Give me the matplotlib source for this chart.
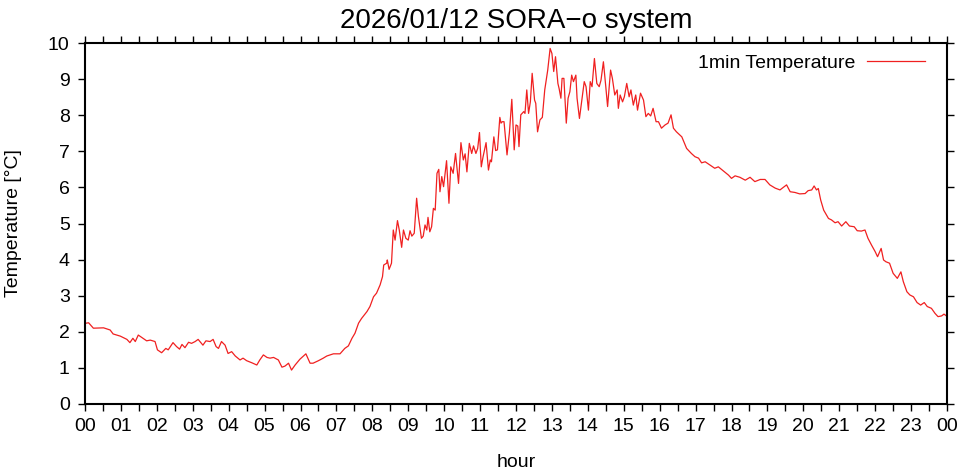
import matplotlib
matplotlib.use("Agg")
import matplotlib.pyplot as plt
import numpy as np

# minutes after 00:00 and 1min temperature [°C]
minutes = [
    0, 2, 6, 14, 31, 42, 47, 59, 70, 75, 80, 84, 89, 97, 103, 109, 117, 121, 128, 135,
    139, 147, 153, 158, 162, 167, 173, 178, 184, 189, 197, 202, 209, 214, 219, 223, 228, 234, 239, 245,
    251, 259, 264, 270, 279, 287, 292, 298, 304, 309, 315, 323, 329, 334, 340, 345, 351, 359, 369, 376,
    381, 390, 398, 404, 415, 426, 434, 440, 446, 451, 457, 462, 471, 476, 482, 487, 493, 497, 499, 504,
    505, 508, 512, 515, 518, 522, 525, 529, 532, 536, 540, 543, 546, 550, 554, 557, 562, 565, 568, 571,
    573, 576, 579, 582, 585, 588, 591, 593, 596, 599, 604, 608, 611, 615, 619, 624, 628, 632, 635, 638,
    642, 646, 649, 653, 656, 659, 662, 665, 670, 674, 677, 679, 683, 686, 689, 693, 695, 697, 700, 705,
    709, 713, 717, 720, 723, 725, 728, 733, 735, 738, 741, 744, 747, 751, 753, 756, 760, 764, 768, 773,
    777, 780, 783, 786, 790, 792, 795, 797, 800, 804, 807, 810, 813, 816, 820, 822, 826, 830, 834, 837,
    841, 844, 847, 851, 855, 859, 862, 866, 870, 873, 878, 881, 885, 889, 891, 894, 898, 901, 905, 909,
    912, 916, 920, 923, 928, 933, 937, 941, 945, 949, 954, 958, 963, 969, 974, 979, 983, 988, 997, 1005,
    1013, 1019, 1025, 1030, 1036, 1044, 1052, 1058, 1066, 1075, 1080, 1086, 1094, 1103, 1111, 1119, 1128, 1136, 1144, 1153,
    1161, 1172, 1178, 1186, 1194, 1203, 1208, 1214, 1218, 1222, 1225, 1229, 1234, 1242, 1247, 1253, 1258, 1264, 1271, 1277,
    1285, 1290, 1297, 1303, 1308, 1314, 1320, 1324, 1330, 1334, 1338, 1344, 1350, 1357, 1363, 1367, 1373, 1378, 1384, 1390,
    1396, 1402, 1407, 1414, 1420, 1425, 1431, 1435, 1439,
]
temps = [
    2.22, 2.24, 2.25, 2.10, 2.11, 2.05, 1.94, 1.88, 1.79, 1.70, 1.82, 1.73, 1.91, 1.82, 1.75, 1.77, 1.73, 1.50, 1.42, 1.54,
    1.50, 1.70, 1.59, 1.52, 1.65, 1.56, 1.71, 1.68, 1.73, 1.79, 1.63, 1.75, 1.73, 1.79, 1.59, 1.54, 1.73, 1.63, 1.40, 1.45,
    1.33, 1.22, 1.27, 1.20, 1.14, 1.08, 1.22, 1.36, 1.29, 1.27, 1.29, 1.22, 1.02, 1.05, 1.13, 0.94, 1.08, 1.24, 1.39, 1.13,
    1.13, 1.20, 1.27, 1.33, 1.39, 1.39, 1.54, 1.61, 1.82, 1.96, 2.24, 2.37, 2.56, 2.70, 2.97, 3.07, 3.30, 3.53, 3.85, 3.90,
    3.99, 3.73, 3.90, 4.82, 4.54, 5.08, 4.82, 4.34, 4.82, 4.59, 4.54, 4.80, 4.65, 4.73, 5.70, 5.19, 4.59, 4.65, 4.96, 4.82,
    5.17, 4.77, 4.91, 5.42, 5.37, 6.39, 6.50, 5.88, 6.30, 6.02, 6.74, 5.56, 6.57, 6.39, 6.94, 6.11, 7.24, 6.76, 6.93, 6.43,
    7.22, 6.94, 7.15, 6.94, 7.08, 7.52, 6.57, 6.85, 7.24, 6.48, 6.76, 6.71, 7.40, 7.02, 7.04, 7.94, 7.78, 7.82, 7.82, 6.90,
    7.52, 8.44, 7.04, 7.73, 7.70, 7.13, 8.01, 8.10, 8.05, 8.70, 8.05, 8.37, 9.16, 8.42, 8.33, 7.54, 7.87, 7.94, 8.70, 9.25,
    9.85, 9.71, 9.21, 9.62, 8.88, 8.74, 8.47, 9.02, 9.02, 7.78, 8.47, 8.65, 9.11, 8.93, 9.11, 8.47, 7.91, 8.42, 8.93, 8.79,
    8.14, 8.93, 8.79, 9.57, 8.88, 8.79, 8.97, 9.48, 8.79, 8.24, 9.25, 9.02, 8.56, 8.70, 8.19, 8.56, 8.37, 8.51, 8.88, 8.51,
    8.70, 8.28, 8.56, 8.14, 8.61, 8.42, 7.96, 8.05, 7.98, 8.19, 7.82, 7.82, 7.64, 7.73, 7.78, 8.01, 7.64, 7.54, 7.40, 7.08,
    6.94, 6.85, 6.81, 6.68, 6.71, 6.62, 6.53, 6.57, 6.46, 6.34, 6.25, 6.32, 6.28, 6.20, 6.28, 6.16, 6.22, 6.22, 6.07, 5.98,
    5.93, 6.07, 5.88, 5.86, 5.82, 5.83, 5.91, 5.93, 6.04, 5.93, 5.97, 5.65, 5.37, 5.14, 5.10, 5.02, 5.05, 4.93, 5.05, 4.93,
    4.91, 4.80, 4.79, 4.82, 4.59, 4.40, 4.22, 4.08, 4.31, 3.99, 3.94, 3.90, 3.62, 3.48, 3.66, 3.39, 3.11, 3.02, 2.97, 2.81,
    2.74, 2.81, 2.70, 2.65, 2.51, 2.42, 2.44, 2.49, 2.44,
]
hour_labels = ["%02d" % h for h in range(24)] + ["00"]

plt.rcParams['font.family'] = ['Liberation Sans', 'DejaVu Sans']

fig = plt.figure(figsize=(9.61, 4.71), dpi=100)
ax = fig.add_axes([85 / 961, 1 - 404 / 471, 862 / 961, 361 / 471])

hours = np.array(minutes) / 60.0
ax.plot(hours, temps, color='#f02020', lw=0.9, label='1min Temperature')

ax.set_xlim(0, 24)
ax.set_ylim(0, 10)
ax.set_xticks(range(25))
ax.set_xticklabels(hour_labels)
ax.set_xticks(np.arange(0.5, 24, 1), minor=True)
ax.set_yticks(range(11))

ax.tick_params(which='both', direction='out', top=True, right=True,
               labelsize=14, width=1, color='black', length=5)
ax.tick_params(axis='x', pad=5)
ax.tick_params(axis='y', pad=6)
for s in ax.spines.values():
    s.set_linewidth(1.5)

ax.set_title('2026/01/12 SORA\u2212o system', fontsize=20, pad=11)
ax.set_xlabel('hour', fontsize=14, labelpad=14)
ax.set_ylabel('Temperature [°C]', fontsize=14, labelpad=19)

ax.legend(loc='upper right', bbox_to_anchor=(0.9835, 0.99), frameon=False,
          markerfirst=False, fontsize=14, handlelength=3.0, borderaxespad=0,
          handletextpad=0.6)

fig.savefig('out.png', dpi=100)
